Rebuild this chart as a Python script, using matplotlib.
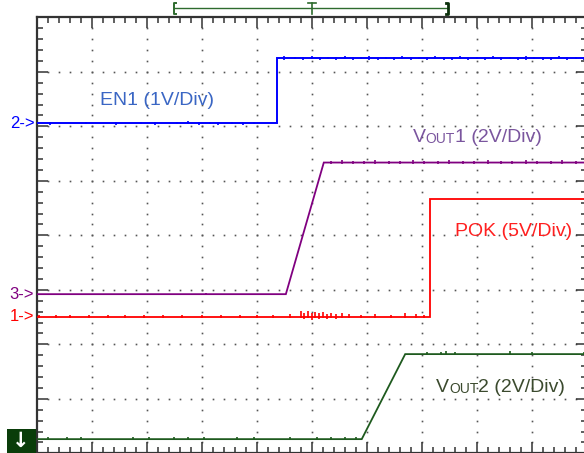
import matplotlib
matplotlib.use("Agg")
import matplotlib.pyplot as plt
from matplotlib.patches import Rectangle
import numpy as np

plt.rcParams['font.family'] = ['Liberation Sans', 'DejaVu Sans']

# ---- trace data (horizontal: divisions, vertical: divisions from screen centre) ----
en1_t = [0.0, 4.36, 4.36, 10.0]
en1_v = [2.055, 2.055, 3.25, 3.25]

vout1_t = [0.0, 4.53, 5.22, 10.0]
vout1_v = [-1.08, -1.08, 1.335, 1.335]

pok_t = [0.0, 7.15, 7.15, 10.0]
pok_v = [-1.49, -1.49, 0.675, 0.675]

vout2_t = [0.0, 5.91, 6.70, 10.0]
vout2_v = [-3.74, -3.74, -2.18, -2.18]

# noise glitches on each trace: position (div), extent below and above the trace (div)
en1_glitch_t = [0.25, 0.9, 1.45, 1.9, 2.15, 2.55, 2.75, 2.95, 3.15, 3.3, 3.55, 3.75, 3.95,
                4.5, 4.7, 4.85, 5.0, 5.15, 5.3, 5.45, 5.6, 5.75, 5.9, 6.05, 6.2, 6.35,
                6.5, 6.65, 6.8, 6.95, 7.1, 7.25, 7.4, 7.55, 7.7, 7.85, 8.0, 8.15, 8.3,
                8.45, 8.6, 8.75, 8.9, 9.05, 9.2, 9.35, 9.5, 9.65, 9.8, 9.95]
en1_glitch_lo = [0.03, 0.02, 0.03, 0.02, 0.03, 0.02, 0.02, 0.03, 0.02, 0.03, 0.02, 0.03, 0.02,
                 0.03, 0.02, 0.04, 0.02, 0.03, 0.02, 0.04, 0.02, 0.03, 0.02, 0.03, 0.04, 0.02,
                 0.03, 0.02, 0.04, 0.02, 0.03, 0.02, 0.03, 0.04, 0.02, 0.03, 0.02, 0.04, 0.02,
                 0.03, 0.02, 0.04, 0.03, 0.02, 0.03, 0.04, 0.02, 0.03, 0.02, 0.03]
en1_glitch_hi = [0.02, 0.03, 0.02, 0.03, 0.02, 0.03, 0.04, 0.02, 0.03, 0.02, 0.03, 0.02, 0.03,
                 0.04, 0.03, 0.02, 0.04, 0.02, 0.03, 0.02, 0.04, 0.02, 0.03, 0.04, 0.02, 0.03,
                 0.02, 0.04, 0.02, 0.03, 0.02, 0.04, 0.02, 0.03, 0.04, 0.02, 0.03, 0.02, 0.04,
                 0.02, 0.03, 0.02, 0.04, 0.03, 0.02, 0.03, 0.04, 0.02, 0.03, 0.02]

vout1_glitch_t = [3.07, 5.35, 5.55, 5.75, 5.95, 6.15, 6.4, 6.6, 6.85, 7.05, 7.3, 7.5, 7.75,
                  7.95, 8.2, 8.45, 8.65, 8.9, 9.1, 9.35, 9.55, 9.8]
vout1_glitch_lo = [0.02, 0.03, 0.02, 0.03, 0.02, 0.03, 0.02, 0.03, 0.02, 0.03, 0.02, 0.03, 0.02,
                   0.03, 0.02, 0.03, 0.02, 0.03, 0.02, 0.03, 0.02, 0.03]
vout1_glitch_hi = [0.02, 0.03, 0.04, 0.02, 0.03, 0.04, 0.02, 0.03, 0.04, 0.02, 0.03, 0.04, 0.02,
                   0.03, 0.04, 0.02, 0.03, 0.04, 0.02, 0.03, 0.04, 0.03]

pok_glitch_t = [0.05, 0.35, 0.6, 0.95, 1.3, 1.6, 1.95, 2.3, 2.65, 3.0, 3.35, 3.7, 4.0, 4.3,
                4.6, 4.8, 4.86, 4.93, 5.0, 5.06, 5.13, 5.2, 5.27, 5.35, 5.45, 5.55, 5.68,
                5.9, 6.15, 6.45, 6.7, 6.9, 7.05]
pok_glitch_lo = [0.02, 0.03, 0.02, 0.03, 0.02, 0.03, 0.02, 0.03, 0.02, 0.03, 0.02, 0.03, 0.02, 0.03,
                 0.02, 0.03, 0.05, 0.03, 0.06, 0.03, 0.05, 0.03, 0.04, 0.03, 0.04, 0.03, 0.03,
                 0.02, 0.03, 0.02, 0.03, 0.02, 0.02]
pok_glitch_hi = [0.03, 0.02, 0.03, 0.02, 0.03, 0.02, 0.03, 0.02, 0.03, 0.02, 0.03, 0.02, 0.03, 0.02,
                 0.04, 0.1, 0.06, 0.11, 0.07, 0.09, 0.06, 0.08, 0.05, 0.07, 0.05, 0.06, 0.05,
                 0.03, 0.04, 0.03, 0.07, 0.04, 0.03]

vout2_glitch_t = [0.2, 0.55, 0.8, 1.75, 2.05, 2.5, 2.75, 3.05, 3.65, 3.95, 4.6,
                  5.1, 5.35, 5.6, 5.8, 7.1, 7.35, 7.45, 7.6, 8.6, 9.0, 9.95]
vout2_glitch_lo = [0.01, 0.01, 0.01, 0.01, 0.01, 0.01, 0.01, 0.01, 0.01, 0.01, 0.01,
                   0.01, 0.01, 0.01, 0.01, 0.02, 0.02, 0.02, 0.02, 0.02, 0.02, 0.02]
vout2_glitch_hi = [0.03, 0.03, 0.03, 0.03, 0.03, 0.03, 0.03, 0.03, 0.03, 0.03, 0.03,
                   0.03, 0.03, 0.03, 0.04, 0.04, 0.04, 0.05, 0.04, 0.05, 0.04, 0.04]

# colours
c_en1 = '#0000ff'
c_vout1 = '#800080'
c_pok = '#ff0000'
c_vout2 = '#1e5a1e'
c_frame = '#333333'
c_dot = '#555555'

fig = plt.figure(figsize=(5.84, 4.53), dpi=100)
ax = fig.add_axes([36.7 / 584, -0.3 / 453, 550 / 584, 436 / 453])
ax.set_xlim(0, 10)
ax.set_ylim(-4, 4)

# frame and graticule ticks on all four sides
for s in ax.spines.values():
    s.set_color(c_frame)
    s.set_linewidth(1.6)
ax.set_xticks(np.arange(0, 11, 1))
ax.set_yticks(np.arange(-4, 5, 1))
ax.set_xticks(np.arange(0, 10.01, 0.2), minor=True)
ax.set_yticks(np.arange(-4, 4.01, 0.2), minor=True)
ax.tick_params(which='both', direction='in', top=True, right=True,
               labelbottom=False, labelleft=False, color=c_frame, width=1.1)
ax.tick_params(which='major', length=8)
ax.tick_params(which='minor', length=4)

# dotted graticule: dots at each minor step along each major line
minor = np.round(np.arange(0.2, 10.0, 0.2), 3)
minor_y = np.round(np.arange(-3.8, 4.0, 0.2), 3)
for xv in range(1, 10):
    ax.plot(np.full_like(minor_y, xv), minor_y, ls='none', marker='s', ms=1.2,
            mfc=c_dot, mec='none', zorder=1)
for yv in range(-3, 4):
    ax.plot(minor, np.full_like(minor, yv), ls='none', marker='s', ms=1.2,
            mfc=c_dot, mec='none', zorder=1)


def draw_trace(t, v, gt, glo, ghi, color, lw=1.3):
    ax.plot(t, v, color=color, lw=lw, zorder=3, solid_joinstyle='miter')
    lv = np.interp(gt, t, v)
    ax.vlines(gt, lv - np.array(glo), lv + np.array(ghi), color=color, lw=1.2, zorder=3)


draw_trace(en1_t, en1_v, en1_glitch_t, en1_glitch_lo, en1_glitch_hi, c_en1, lw=1.4)
draw_trace(vout1_t, vout1_v, vout1_glitch_t, vout1_glitch_lo, vout1_glitch_hi, c_vout1)
draw_trace(pok_t, pok_v, pok_glitch_t, pok_glitch_lo, pok_glitch_hi, c_pok)
draw_trace(vout2_t, vout2_v, vout2_glitch_t, vout2_glitch_lo, vout2_glitch_hi, c_vout2)

# channel labels
fs = 14
ax.text(1.151, 2.391, 'EN1 (1V/Div)', color='#3a66c4', fontsize=fs, va='baseline', zorder=4)
ax.text(7.605, -0.013, 'POK (5V/Div)', color='#ff2020', fontsize=fs, va='baseline', zorder=4)


def vout_label(x, y, num, color):
    t1 = ax.text(x, y, 'V', color=color, fontsize=fs, va='baseline', zorder=4)
    t2 = ax.annotate('OUT', xy=(1, 0), xycoords=t1, va='bottom', ha='left',
                     color=color, fontsize=10, zorder=4)
    ax.annotate(num + ' (2V/Div)', xy=(1, 0), xycoords=t2, va='bottom', ha='left',
                color=color, fontsize=fs, zorder=4)


vout_label(6.836, 1.717, '1', '#7a559e')
vout_label(7.26, -2.87, '2', '#3b4a2e')

# channel offset markers to the left of the frame
ax.text(-0.49, en1_v[0], '2->', color=c_en1, fontsize=12, va='center', ha='left', clip_on=False)
ax.text(-0.49, vout1_v[0], '3->', color=c_vout1, fontsize=12, va='center', ha='left', clip_on=False)
ax.text(-0.49, pok_v[0], '1->', color=c_pok, fontsize=12, va='center', ha='left', clip_on=False)

# ground marker box for channel 4
fig.patches.append(Rectangle((6.7 / 584, 0), 29.3 / 584, 24.5 / 453, transform=fig.transFigure,
                             facecolor='#0a3d0a', edgecolor='none', zorder=5))
fig.text(21 / 584, 12 / 453, '\u2193', color='white', fontsize=15, fontweight='bold',
         family='DejaVu Sans', ha='center', va='center', zorder=6)

# horizontal record / trigger bracket above the frame
c_br = '#2e6b2e'
yb = 4 + (17.3 - 8) / 54.5
yt = 4 + (17.3 - 3) / 54.5
yl = 4 + (17.3 - 14) / 54.5
ax.plot([2.5, 7.48], [yb, yb], color=c_br, lw=1.0, clip_on=False)
ax.plot([2.53, 2.5, 2.5, 2.53], [yt, yt, yl, yl], color=c_br, lw=1.4, clip_on=False)
ax.plot([7.45, 7.48, 7.48, 7.45], [yt, yt, yl, yl], color='#0b300b', lw=2.0, clip_on=False)
ax.plot([5.0, 5.0], [yt, yl], color=c_br, lw=1.2, clip_on=False)
ax.plot([4.93, 5.07], [yt, yt], color=c_br, lw=1.2, clip_on=False)

fig.savefig('out.png', dpi=100)
